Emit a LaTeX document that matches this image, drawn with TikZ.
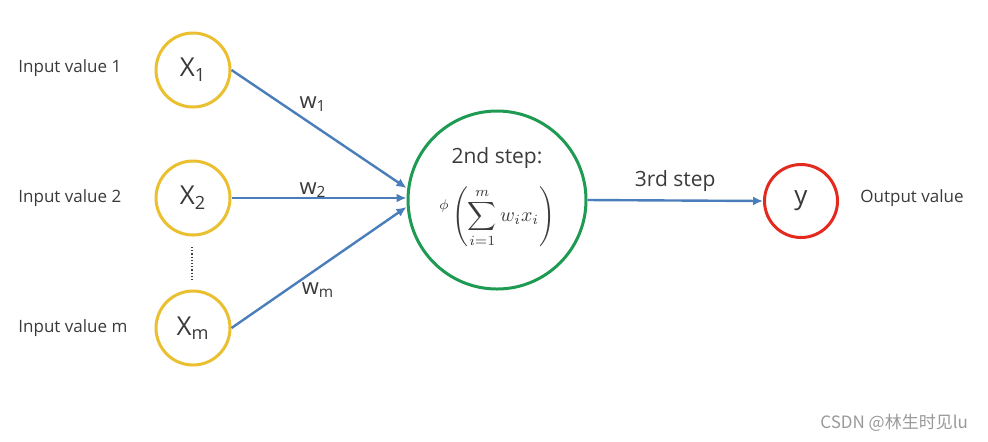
\documentclass[tikz,border=0pt]{standalone}
\usepackage{fontspec}
\setmainfont{Open Sans}
\newfontfamily\cjkfont{Noto Sans CJK SC}
\usepackage{tikz}
\usetikzlibrary{arrows.meta,positioning}
\definecolor{NYellow}{HTML}{EABF30}
\definecolor{NGreen}{HTML}{1F9A52}
\definecolor{NRed}{HTML}{E42A1F}
\definecolor{NBlue}{HTML}{4A7EBB}
\definecolor{NText}{HTML}{3A3A3A}
\newcommand{\xin}[1]{X\textsubscript{#1}}
\newcommand{\win}[1]{w\textsubscript{#1}}

\begin{document}
\begin{tikzpicture}[
  x=0.5pt,y=-0.5pt,
  every node/.style={text=NText},
  label/.style={font=\fontsize{8.5}{10}\selectfont,anchor=west,inner sep=0pt},
  input/.style={circle,draw=NYellow,line width=1.5pt,minimum size=37pt,
    inner sep=0pt,font=\fontsize{13}{15}\selectfont},
  neuron/.style={circle,draw=NGreen,line width=1.5pt,minimum size=89pt,
    inner sep=0pt},
  output/.style={circle,draw=NRed,line width=1.5pt,minimum size=36.5pt,
    inner sep=0pt,font=\fontsize{13}{15}\selectfont},
  weight/.style={font=\fontsize{11}{13}\selectfont,inner sep=0pt},
  arr/.style={-{Latex[length=5pt,width=4.5pt]},line width=1.2pt,color=NBlue}
]
  \useasboundingbox (0,0) rectangle (988,441);

  \node[label] (lab1) at (18,68) {Input value 1};
  \node[label] (lab2) at (18,198) {Input value 2};
  \node[label] (labm) at (18,328) {Input value m};
  \node[input] (x1) at (193,70) {\xin{1}};
  \node[input] (x2) at (193,198) {\xin{2}};
  \node[input] (xm) at (193,328) {\xin{m}};
  \coordinate (gaptop) at (192,247);
  \coordinate (gapbot) at (192,281);
  \draw[densely dotted,line width=0.6pt,color=NText] (gaptop) -- (gapbot);

  \node[neuron] (sum) at (497,200) {};
  \node[font=\fontsize{10.5}{12}\selectfont,inner sep=0pt] (step2) at (497,158) {2nd step:};
  \node[font=\fontsize{10}{12}\selectfont,inner sep=0pt] (act) at (497,217)
    {$\displaystyle \raisebox{6pt}{$\scriptstyle\phi$}\left(\sum_{i=1}^{m} w_i x_i\right)$};

  \node[output] (y) at (801,201) {y};
  \node[label] (labout) at (860,198) {Output value};

  \draw[arr] (x1.east) -- ([yshift=6pt]sum.west);
  \draw[arr] (x2.east) -- ([yshift=1pt]sum.west);
  \draw[arr] (xm.east) -- ([yshift=-3.5pt]sum.west);
  \node[weight] (w1) at (313,104) {\win{1}};
  \node[weight] (w2) at (313,190) {\win{2}};
  \node[weight] (wm) at (318,290) {\win{m}};

  \draw[arr] (sum.east) -- (y.west)
    node[midway,above=4pt,inner sep=0pt,font=\fontsize{10.5}{12}\selectfont] (step3) {3rd step};

  \node[font=\cjkfont\fontsize{8.5}{10}\selectfont,text=black!40,anchor=east]
    (mark) at (975,423) {CSDN @林生时见lu};
\end{tikzpicture}
\end{document}
